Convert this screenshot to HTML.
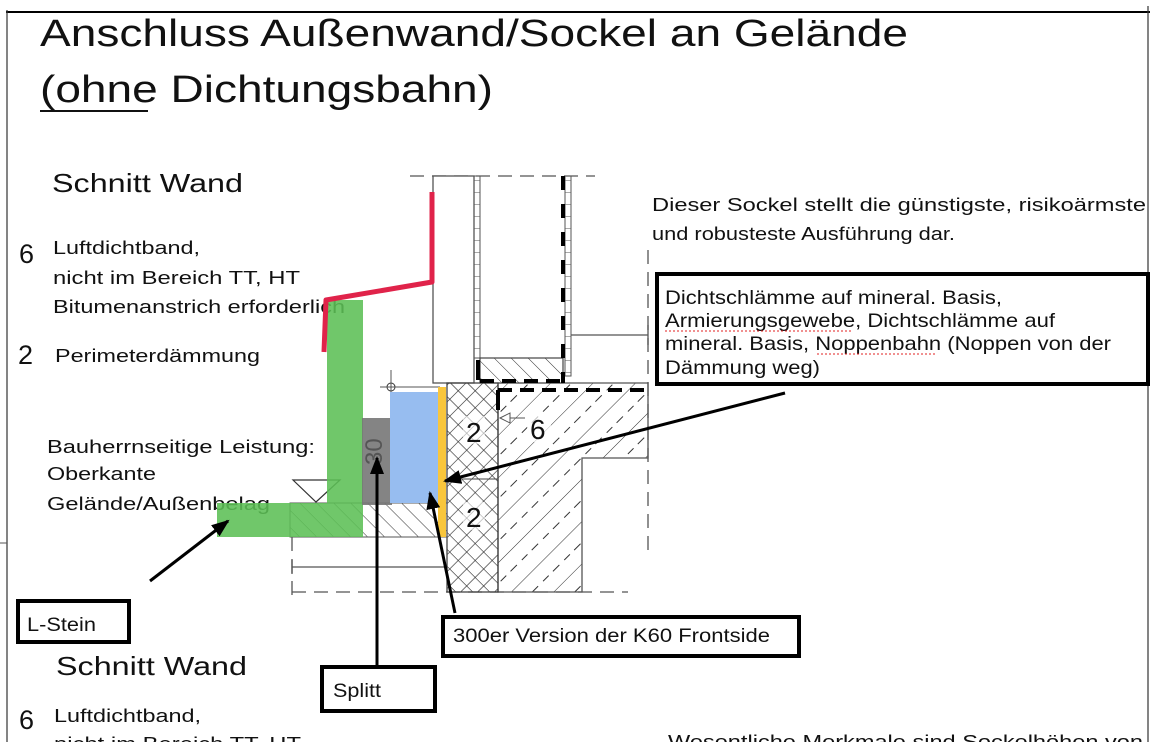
<!DOCTYPE html>
<html><head><meta charset="utf-8"><style>
html,body{margin:0;padding:0;background:#fff;}
svg{display:block;}
text{font-family:"Liberation Sans",Arial,sans-serif;fill:#111;}
</style></head><body>
<svg width="1162" height="742" viewBox="0 0 1162 742" xmlns="http://www.w3.org/2000/svg">
<defs>
<pattern id="hatch" width="12" height="12" patternUnits="userSpaceOnUse" patternTransform="rotate(-45)">
<line x1="0" y1="0" x2="0" y2="12" stroke="#333" stroke-width="1"/></pattern>
<pattern id="cross" width="12" height="12" patternUnits="userSpaceOnUse" patternTransform="rotate(45)">
<line x1="0" y1="0" x2="0" y2="12" stroke="#222" stroke-width="1.2"/><line x1="0" y1="0" x2="12" y2="0" stroke="#222" stroke-width="1.2"/></pattern>
<pattern id="conc" width="30" height="30" patternUnits="userSpaceOnUse" patternTransform="rotate(45)">
<line x1="0" y1="0" x2="0" y2="30" stroke="#333" stroke-width="1"/><line x1="15" y1="4" x2="15" y2="13" stroke="#333" stroke-width="1"/><line x1="15" y1="19" x2="15" y2="27" stroke="#333" stroke-width="1"/></pattern>
<pattern id="ladder" width="6" height="12" patternUnits="userSpaceOnUse"><line x1="0" y1="0" x2="6" y2="0" stroke="#555" stroke-width="1"/></pattern>
<marker id="ah2" markerWidth="18" markerHeight="14" refX="16" refY="7" orient="auto" markerUnits="userSpaceOnUse"><path d="M0,0 L18,7 L0,14 z" fill="#000"/></marker>
</defs>
<line x1="6" y1="12" x2="1150" y2="12" stroke="#000" stroke-width="2"/>
<line x1="7" y1="10" x2="7" y2="742" stroke="#333" stroke-width="1.2"/>
<line x1="1148" y1="6" x2="1148" y2="742" stroke="#333" stroke-width="1.2"/>
<line x1="0" y1="543" x2="7" y2="543" stroke="#555" stroke-width="1"/>

<text x="40" y="46" font-size="38" textLength="868" lengthAdjust="spacingAndGlyphs">Anschluss Außenwand/Sockel an Gelände</text>
<text x="40" y="102" font-size="38" textLength="453" lengthAdjust="spacingAndGlyphs">(ohne Dichtungsbahn)</text>
<line x1="40" y1="111" x2="148" y2="111" stroke="#111" stroke-width="2"/>

<text x="52" y="192" font-size="26" textLength="191" lengthAdjust="spacingAndGlyphs">Schnitt Wand</text>
<text x="19" y="263" font-size="27">6</text>
<text x="53" y="254" font-size="18" textLength="147" lengthAdjust="spacingAndGlyphs">Luftdichtband,</text>
<text x="53" y="284" font-size="18" textLength="247" lengthAdjust="spacingAndGlyphs">nicht im Bereich TT, HT</text>
<text x="53" y="313" font-size="18" textLength="292" lengthAdjust="spacingAndGlyphs">Bitumenanstrich erforderlich</text>
<text x="18" y="364" font-size="27">2</text>
<text x="55" y="362" font-size="18" textLength="205" lengthAdjust="spacingAndGlyphs">Perimeterdämmung</text>
<text x="47" y="453" font-size="18" textLength="268" lengthAdjust="spacingAndGlyphs">Bauherrnseitige Leistung:</text>
<text x="47" y="480" font-size="18" textLength="109" lengthAdjust="spacingAndGlyphs">Oberkante</text>
<text x="47" y="510" font-size="18" textLength="223" lengthAdjust="spacingAndGlyphs">Gelände/Außenbelag</text>

<text x="652" y="211" font-size="18" textLength="494" lengthAdjust="spacingAndGlyphs">Dieser Sockel stellt die günstigste, risikoärmste</text>
<text x="652" y="240" font-size="18" textLength="303" lengthAdjust="spacingAndGlyphs">und robusteste Ausführung dar.</text>

<text x="56" y="675" font-size="26" textLength="191" lengthAdjust="spacingAndGlyphs">Schnitt Wand</text>
<text x="19" y="729" font-size="27">6</text>
<text x="54" y="722" font-size="18" textLength="147" lengthAdjust="spacingAndGlyphs">Luftdichtband,</text>
<text x="54" y="750" font-size="18" textLength="247" lengthAdjust="spacingAndGlyphs">nicht im Bereich TT, HT</text>
<text x="668" y="748" font-size="18" textLength="475" lengthAdjust="spacingAndGlyphs">Wesentliche Merkmale sind Sockelhöhen von</text>

<g stroke="#555" stroke-width="1.3" fill="none">
<line x1="410" y1="176" x2="595" y2="176" stroke-dasharray="14,8"/>
<line x1="648" y1="250" x2="648" y2="555" stroke-dasharray="14,8"/>
<line x1="292" y1="592" x2="628" y2="592" stroke-dasharray="14,8"/>
<line x1="292" y1="537" x2="292" y2="600" stroke-dasharray="14,8"/>
<line x1="292" y1="567" x2="447" y2="567"/>
<line x1="292" y1="560" x2="292" y2="574"/>
<line x1="571" y1="335" x2="648" y2="335"/>
<line x1="648" y1="325" x2="648" y2="345"/>
</g>
<rect x="433" y="176" width="41" height="207" fill="#fff" stroke="#555" stroke-width="1.3"/>
<rect x="474" y="176" width="6" height="182" fill="url(#ladder)" stroke="#555" stroke-width="1"/>
<rect x="565" y="176" width="6" height="200" fill="url(#ladder)" stroke="#555" stroke-width="1"/>
<rect x="480" y="358" width="83" height="25" fill="url(#hatch)" stroke="#444" stroke-width="1.2"/>
<path d="M498,383 L648,383 L648,458 L582,458 L582,592 L498,592 Z" fill="url(#conc)" stroke="#555" stroke-width="1.3"/>
<rect x="447" y="383" width="51" height="209" fill="url(#cross)" stroke="#444" stroke-width="1.3"/>
<line x1="447" y1="479" x2="498" y2="479" stroke="#444" stroke-width="1"/>
<rect x="463" y="416" width="22" height="28" fill="#fff" fill-opacity="0.6"/>
<rect x="463" y="502" width="22" height="28" fill="#fff" fill-opacity="0.6"/>
<rect x="527" y="412" width="24" height="30" fill="#fff" fill-opacity="0.7"/>
<text x="466" y="442" font-size="28">2</text>
<text x="466" y="527" font-size="28">2</text>
<text x="530" y="439" font-size="28">6</text>
<line x1="505" y1="418" x2="525" y2="418" stroke="#555" stroke-width="1"/>
<path d="M500,418 L510,413 L510,423 Z" fill="#fff" stroke="#555"/>
<g stroke="#000" stroke-width="4" fill="none">
<line x1="563" y1="176" x2="563" y2="383" stroke-dasharray="14,14"/>
<line x1="478" y1="360" x2="478" y2="380"/>
<line x1="480" y1="381" x2="563" y2="381" stroke-dasharray="14,8"/>
<line x1="498" y1="390" x2="650" y2="390" stroke-dasharray="14,8"/>
<line x1="498" y1="390" x2="498" y2="410"/>
</g>
<rect x="290" y="503" width="157" height="34" fill="url(#hatch)" stroke="#555" stroke-width="1"/>
<path d="M293,480 L340,480 L316,502 Z" fill="none" stroke="#333" stroke-width="1.2"/>
<circle cx="391" cy="387" r="4" fill="none" stroke="#333"/>
<line x1="380" y1="387" x2="440" y2="387" stroke="#555"/>
<line x1="391" y1="370" x2="391" y2="398" stroke="#555"/>
<rect x="327" y="300" width="36" height="237" fill="#5cbf55" fill-opacity="0.88"/>
<rect x="217" y="503" width="110" height="34" fill="#5cbf55" fill-opacity="0.88"/>
<rect x="362" y="418" width="30" height="87" fill="#777" fill-opacity="0.9"/>
<text transform="translate(382,465) rotate(-90)" font-size="24" style="fill:#555">30</text>
<rect x="390" y="392" width="49" height="111" fill="#97bdf0"/>
<rect x="438" y="387" width="8" height="150" fill="#f9c63c"/>
<path d="M324,352 L326,300 L432,282 L432,192" fill="none" stroke="#e0234a" stroke-width="5" stroke-linejoin="round"/>

<rect x="657" y="274" width="491" height="110" fill="#fff" stroke="#000" stroke-width="4"/>
<text x="665" y="304" font-size="19.5" textLength="337" lengthAdjust="spacingAndGlyphs">Dichtschlämme auf mineral. Basis,</text>
<text x="665" y="327" font-size="19.5" textLength="390" lengthAdjust="spacingAndGlyphs">Armierungsgewebe, Dichtschlämme auf</text>
<text x="665" y="350" font-size="19.5" textLength="446" lengthAdjust="spacingAndGlyphs">mineral. Basis, Noppenbahn (Noppen von der</text>
<text x="665" y="374" font-size="19.5" textLength="155" lengthAdjust="spacingAndGlyphs">Dämmung weg)</text>
<line x1="665" y1="331" x2="852" y2="331" stroke="#e02020" stroke-width="1" stroke-dasharray="2,2"/>
<line x1="817" y1="354" x2="935" y2="354" stroke="#e02020" stroke-width="1" stroke-dasharray="2,2"/>

<rect x="18" y="601" width="111" height="41" fill="#fff" stroke="#000" stroke-width="4"/>
<text x="27" y="631" font-size="19.5" textLength="69" lengthAdjust="spacingAndGlyphs">L-Stein</text>
<rect x="322" y="667" width="113" height="44" fill="#fff" stroke="#000" stroke-width="4"/>
<text x="333" y="697" font-size="19.5" textLength="48" lengthAdjust="spacingAndGlyphs">Splitt</text>
<rect x="443" y="617" width="356" height="39" fill="#fff" stroke="#000" stroke-width="4"/>
<text x="453" y="642" font-size="19.5" textLength="317" lengthAdjust="spacingAndGlyphs">300er Version der K60 Frontside</text>

<g stroke="#000" stroke-width="3" fill="none">
<line x1="150" y1="581" x2="228" y2="521" marker-end="url(#ah2)"/>
<line x1="377" y1="665" x2="377" y2="458" marker-end="url(#ah2)"/>
<line x1="455" y1="613" x2="430" y2="493" marker-end="url(#ah2)"/>
<line x1="785" y1="393" x2="445" y2="481" marker-end="url(#ah2)"/>
</g>
</svg>
</body></html>
